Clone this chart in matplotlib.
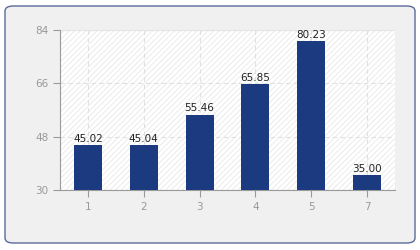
import matplotlib
matplotlib.use("Agg")
import matplotlib.pyplot as plt
from matplotlib.patches import FancyBboxPatch, Rectangle

categories = ["1", "2", "3", "4", "5", "7"]
values = [45.02, 45.04, 55.46, 65.85, 80.23, 35.00]
yticks = [30, 48, 66, 84]

plt.rcParams['hatch.linewidth'] = 0.6
plt.rcParams['hatch.color'] = '#e6e6e6'

fig = plt.figure(figsize=(4.2, 2.5), dpi=100)
fig.patch.set_facecolor('white')

# outer rounded panel
panel = FancyBboxPatch((5/420, 7/250), 410/420, 237/250,
                       boxstyle="round,pad=0,rounding_size=0.02",
                       transform=fig.transFigure, facecolor='#f0f0f0',
                       edgecolor='#5a6a9a', linewidth=1.0, zorder=-10)
fig.patches.append(panel)

ax = fig.add_axes([60/420, 60/250, 335/420, 160/250])
ax.set_zorder(1)
ax.set_facecolor('white')
bg = Rectangle((0, 0), 1, 1, transform=ax.transAxes, facecolor='white',
               edgecolor='#e8e8e8', hatch='//////', linewidth=0, zorder=0)
ax.add_patch(bg)

x = list(range(len(categories)))
bars = ax.bar(x, values, width=0.5, color='#1b3a80', zorder=3)
ax.set_xlim(-0.5, len(categories) - 0.5)
ax.set_ylim(30, 84)
ax.set_yticks(yticks)
ax.set_xticks(x)
ax.set_xticklabels(categories)

for xi, v in zip(x, values):
    ax.text(xi, v + 0.4, f"{v:.2f}", ha='center', va='bottom',
            fontsize=7.5, color='#222222', zorder=4)

ax.grid(True, color='#e0e0e0', linestyle=(0, (4, 3)), linewidth=0.8, zorder=1)
ax.set_axisbelow(True)

for s in ['top', 'right']:
    ax.spines[s].set_visible(False)
ax.spines['left'].set_color('#999999')
ax.spines['bottom'].set_color('#999999')
ax.axhline(84, color='#e4e4e4', linewidth=0.8, zorder=1)

ax.tick_params(axis='both', colors='#999999', labelcolor='#999999',
               labelsize=7.5, length=5, width=0.8)

fig.savefig('out.png', dpi=100, facecolor='white')
